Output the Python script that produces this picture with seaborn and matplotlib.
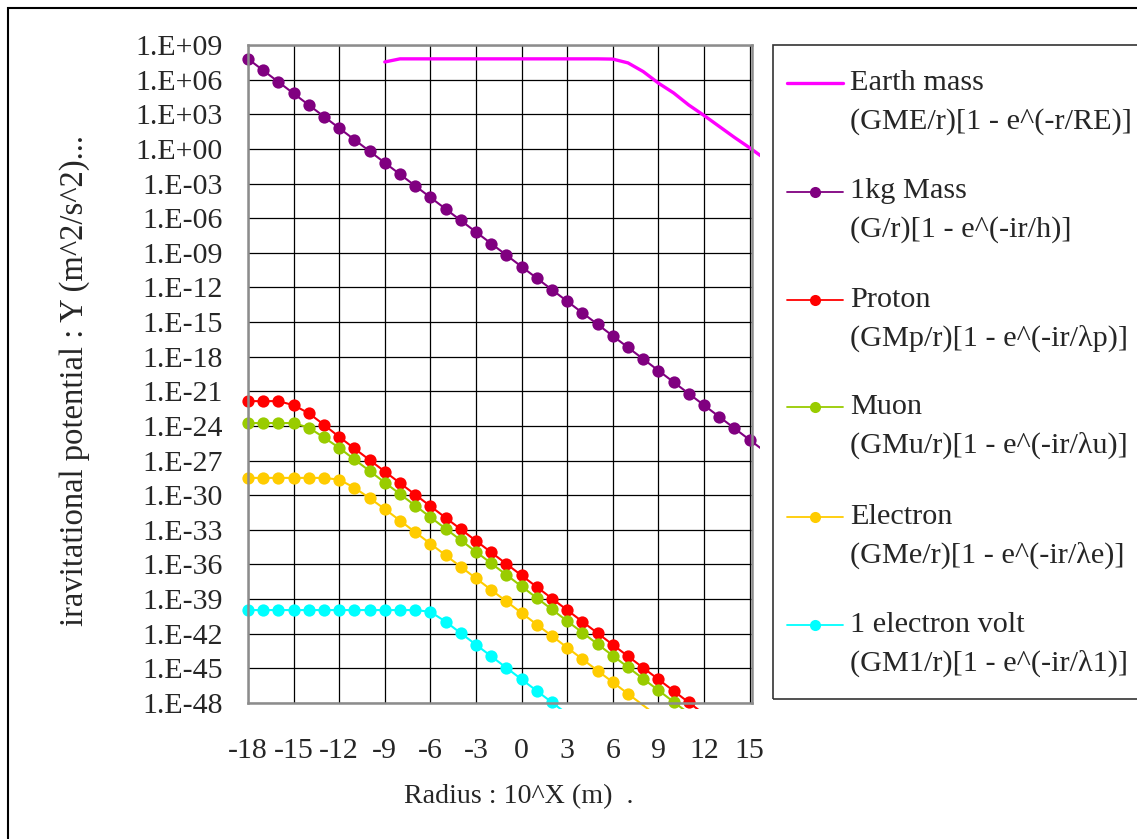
import matplotlib
matplotlib.use("Agg")
import matplotlib.pyplot as plt
from matplotlib.patches import Rectangle
from matplotlib.lines import Line2D
from matplotlib.ticker import FixedLocator, NullLocator
import numpy as np
import pandas as pd
import seaborn as sns

# X = exponent of the radius (10^X m)
radius_exp = list(range(-18, 17))

# log10 of the potential (None = no point)
earth_mass = [None, None, None, None, None, None, None, None, None,
              7.53, 7.8, 7.8, 7.8, 7.8, 7.8, 7.8, 7.8, 7.8, 7.8, 7.8, 7.8, 7.8, 7.8, 7.8,
              7.78, 7.45, 6.7, 5.7, 4.85, 3.8, 2.9, 1.95, 1.0, 0.1, -0.85]
kg_mass = [7.8, 6.8, 5.8, 4.8, 3.8, 2.8, 1.8, 0.8, -0.2, -1.2, -2.2, -3.2, -4.2, -5.2,
           -6.2, -7.2, -8.2, -9.2, -10.2, -11.2, -12.2, -13.2, -14.2, -15.2, -16.2,
           -17.2, -18.2, -19.2, -20.2, -21.2, -22.2, -23.2, -24.2, -25.2, -26.2]
proton = [-21.85, -21.85, -21.85, -22.2, -22.9, -23.9, -24.95, -25.95, -26.95, -27.95,
          -28.95, -29.95, -30.95, -31.95, -32.95, -33.95, -34.95, -35.95, -36.95, -37.95,
          -38.95, -39.95, -40.95, -41.95, -42.95, -43.95, -44.95, -45.95, -46.95, -47.95,
          -48.95, None, None, None, None]
muon = [-23.75, -23.75, -23.75, -23.75, -24.15, -25.0, -25.9, -26.9, -27.9, -28.9,
        -29.9, -30.9, -31.9, -32.9, -33.9, -34.9, -35.9, -36.9, -37.9, -38.9, -39.9,
        -40.9, -41.9, -42.9, -43.9, -44.9, -45.9, -46.9, -47.9, -48.9,
        None, None, None, None, None]
electron = [-28.5, -28.5, -28.5, -28.5, -28.5, -28.5, -28.65, -29.35, -30.25, -31.2,
            -32.2, -33.2, -34.2, -35.2, -36.2, -37.2, -38.2, -39.2, -40.2, -41.2, -42.2,
            -43.2, -44.2, -45.2, -46.2, -47.2, -48.2, -49.2,
            None, None, None, None, None, None, None]
one_ev = [-39.95, -39.95, -39.95, -39.95, -39.95, -39.95, -39.95, -39.95, -39.95, -39.95,
          -39.95, -39.95, -40.1, -40.95, -41.95, -42.95, -43.95, -44.95, -45.95, -46.95,
          -47.95, -48.95, None, None, None, None, None, None, None, None, None, None,
          None, None, None]

series_names = ["Earth mass", "1kg Mass", "Proton", "Muon", "Electron", "1 electron volt"]
formulas = ["(GME/r)[1 - e^(-r/RE)]", "(G/r)[1 - e^(-ir/h)]", "(GMp/r)[1 - e^(-ir/λp)]",
            "(GMu/r)[1 - e^(-ir/λu)]", "(GMe/r)[1 - e^(-ir/λe)]", "(GM1/r)[1 - e^(-ir/λ1)]"]
colors = ["#FF00FF", "#800080", "#FF0000", "#99CC00", "#FFCC00", "#00FFFF"]
has_markers = [False, True, True, True, True, True]
line_widths = [2.4, 1.5, 1.5, 1.5, 1.5, 1.5]

rows = []
for name, vals in zip(series_names, [earth_mass, kg_mass, proton, muon, electron, one_ev]):
    for x, v in zip(radius_exp, vals):
        if v is not None:
            rows.append((name, x, 10.0 ** v))
df = pd.DataFrame(rows, columns=["series", "X", "Y"])

sns.set_style("white")
plt.rcParams["font.family"] = ["Liberation Serif", "DejaVu Serif"]
plt.rcParams["axes.unicode_minus"] = False

W, H = 1137, 839
fig = plt.figure(figsize=(W / 100, H / 100), dpi=100)
ax = fig.add_axes([248 / W, 1 - 703 / H, 504 / W, 658 / H])
ax.set_yscale("log")
x_max = 15.16

# lines may run slightly past the plot frame, as in the original
clip_rect = Rectangle((-0.02, -6 / 658), 1.02 + 8 / 504, 1.03, transform=ax.transAxes)

for name, col, mk, lw in zip(series_names, colors, has_markers, line_widths):
    sub = df[df["series"] == name]
    n0 = len(ax.lines)
    sns.lineplot(data=sub, x="X", y="Y", color=col, linewidth=lw, ax=ax,
                 legend=False, zorder=3)
    for ln in ax.lines[n0:]:
        ln.set_clip_path(clip_rect)
    if mk:
        pts = sub[(sub["Y"] >= 1e-48) & (sub["X"] <= x_max)]
        sns.scatterplot(data=pts, x="X", y="Y", color=col, s=78, linewidth=0,
                        ax=ax, legend=False, zorder=4, clip_on=False)

ax.set_xlim(-18, x_max)
ax.set_ylim(1e-48, 1e9)

xt = list(range(-18, 16, 3))
ax.xaxis.set_major_locator(FixedLocator(xt))
ax.set_xticklabels([str(t) for t in xt])
yt_exp = list(range(-48, 10, 3))
ax.yaxis.set_major_locator(FixedLocator([10.0 ** k for k in yt_exp]))
ax.yaxis.set_minor_locator(NullLocator())
ax.set_yticklabels([f"1.E{k:+03d}" for k in yt_exp])
ax.tick_params(axis="both", length=0, labelsize=21.5)
ax.tick_params(axis="y", pad=18)
ax.tick_params(axis="x", pad=25)

ax.grid(True, color="black", linewidth=0.9)
ax.set_axisbelow(True)
for sp in ax.spines.values():
    sp.set_color("#8c8c8c")
    sp.set_linewidth(1.8)
    sp.set_zorder(5)

ax.set_xlabel("Radius : 10^X (m)  .", fontsize=20.2)
ax.xaxis.set_label_coords((519 - 248) / 504, (703 - 797) / 658)
ax.xaxis.label.set_verticalalignment("center")
ax.set_ylabel("iravitational potential : Y (m^2/s^2)...", fontsize=23.5)
ax.yaxis.set_label_coords((75 - 248) / 504, (703 - 381) / 658)
ax.yaxis.label.set_verticalalignment("center")

# legend box drawn by hand (two-line labels, handle beside the first line)
fig.add_artist(Rectangle((773 / W, 1 - 699 / H), 400 / W, 654 / H, transform=fig.transFigure,
                         fill=False, edgecolor="#333333", linewidth=1.2))
entry_y = [83, 191.5, 300, 407, 516.5, 625]
for name, form, col, mk, lw, yy in zip(series_names, formulas, colors, has_markers,
                                       line_widths, entry_y):
    fy = 1 - yy / H
    fig.add_artist(Line2D([787 / W, 843 / W], [fy, fy], color=col,
                          linewidth=lw if not mk else 1.3, transform=fig.transFigure))
    if mk:
        fig.add_artist(Line2D([815 / W], [fy], marker="o", markersize=8, color=col,
                              markeredgewidth=0, transform=fig.transFigure))
    fig.text(850 / W, fy, name, fontsize=21.8, va="center", ha="left")
    fig.text(850 / W, 1 - (yy + 38.5) / H, form, fontsize=21.8, va="center", ha="left")

# outer chart border
fig.add_artist(Rectangle((7.5 / W, -0.1), 1.2, 1 - 7.5 / H + 0.1, transform=fig.transFigure,
                         fill=False, edgecolor="black", linewidth=1.5))

fig.savefig("out.png", dpi=100)
